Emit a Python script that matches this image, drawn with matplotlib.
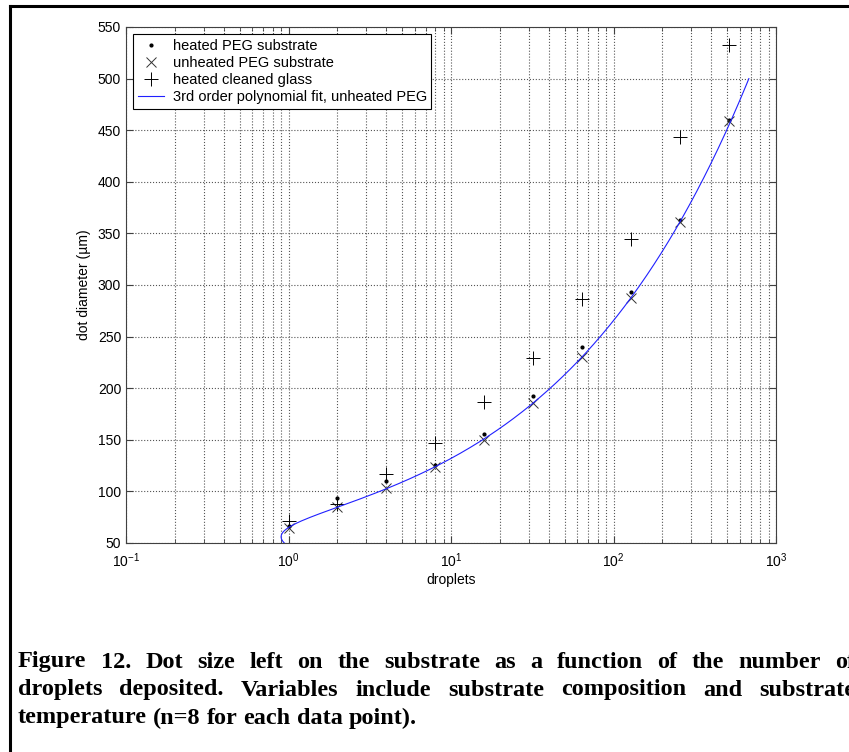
import numpy as np
import matplotlib
matplotlib.use('Agg')
import matplotlib.pyplot as plt
from matplotlib.lines import Line2D
from matplotlib.ticker import LogLocator, NullFormatter

plt.rcParams['font.family'] = ['Liberation Sans', 'DejaVu Sans']
plt.rcParams['mathtext.fontset'] = 'custom'
plt.rcParams['mathtext.rm'] = 'Liberation Sans'

# --- Daten ---
droplets = [1, 2, 4, 8, 16, 32, 64, 128, 256, 512]
heated_peg = [66.5, 94, 110, 126, 156, 192.5, 239.5, 293.5, 363, 460]
unheated_peg = [65, 84.5, 103, 124, 150, 185.5, 230.5, 287.5, 361, 458.5]
heated_glass = [71, 87.5, 116.5, 147, 187, 229, 286, 344.5, 443, 533]

# Polynomfit 3. Ordnung: droplets als Funktion des Durchmessers (unbeheiztes PEG),
# relative Gewichtung
fit_range = (50, 500)
coef = np.polyfit(unheated_peg, droplets, 3, w=np.array(droplets, dtype=float) ** -1.3)
fit_d = np.linspace(fit_range[0], fit_range[1], 400)
fit_n = np.polyval(coef, fit_d)

caption_lines = [
    'Figure 12. Dot size left on the substrate as a function of the number of',
    'droplets deposited. Variables include substrate composition and substrate',
    'temperature (n=8 for each data point).',
]

W, H = 849, 752
fig = plt.figure(figsize=(W / 100, H / 100), dpi=100)
ax = fig.add_axes([126 / W, 1 - 543 / H, 650 / W, 516 / H])

ax.plot(droplets, heated_peg, '.', color='black', ms=4, label='heated PEG substrate')
ax.plot(droplets, unheated_peg, 'x', color='#333333', ms=7, mew=0.7, label='unheated PEG substrate')
ax.plot(droplets, heated_glass, '+', color='black', ms=10, mew=0.7, label='heated cleaned glass')
ax.plot(fit_n, fit_d, '-', color='#2020ff', lw=0.8, label='3rd order polynomial fit, unheated PEG')

ax.set_xscale('log')
ax.set_xlim(0.1, 1000)
ax.set_ylim(50, 550)
ax.set_yticks(np.arange(50, 551, 50))
ax.xaxis.set_major_locator(LogLocator(base=10, numticks=10))
ax.xaxis.set_minor_locator(LogLocator(base=10, subs=np.arange(2, 10), numticks=20))
ax.xaxis.set_minor_formatter(NullFormatter())

ax.grid(True, which='major', linestyle=':', color='#555555', lw=0.8)
ax.grid(True, which='minor', axis='x', linestyle=':', color='#555555', lw=0.8)
ax.tick_params(which='both', direction='in', top=True, right=True, colors='#404040',
               labelcolor='black', labelsize=10)
ax.tick_params(which='major', length=5)
ax.tick_params(which='minor', length=3)
ax.tick_params(axis='x', which='major', pad=6)
for sp in ax.spines.values():
    sp.set_color('#404040')
    sp.set_linewidth(0.8)

ax.set_xlabel('droplets', fontsize=10, labelpad=2)
ax.set_ylabel('dot diameter (\u00b5m)', fontsize=10, labelpad=5)

leg = ax.legend(loc='upper left', fontsize=10.5, fancybox=False, framealpha=1,
                edgecolor='black', borderaxespad=0.5, handlelength=1.8,
                labelspacing=0.22, borderpad=0.3, handletextpad=0.6)
leg.get_frame().set_linewidth(0.8)

# Rahmen um die Abbildung (links und oben sichtbar)
fig.add_artist(Line2D([10 / W, 10 / W], [0, 1 - 6 / H], color='black', lw=2.2))
fig.add_artist(Line2D([10 / W, 1.0], [1 - 6 / H, 1 - 6 / H], color='black', lw=2.2))

# Bildunterschrift im Blocksatz (letzte Zeile linksbuendig)
renderer = fig.canvas.get_renderer()
x0, x1 = 18, 855
for i, line in enumerate(caption_lines):
    y = 1 - (662 + 28 * i) / H
    words = line.split(' ')
    texts = [fig.text(0, y, w, fontsize=17.5, fontweight='bold', family='Liberation Serif',
                      va='center', ha='left') for w in words]
    widths = [t.get_window_extent(renderer).width for t in texts]
    if i < len(caption_lines) - 1:
        gap = (x1 - x0 - sum(widths)) / (len(words) - 1)
    else:
        gap = texts[0].get_fontsize() * 0.25 * 100 / 72
    xpos = x0
    for t, w in zip(texts, widths):
        t.set_x(xpos / W)
        xpos += w + gap

fig.savefig('out.png', dpi=100)
